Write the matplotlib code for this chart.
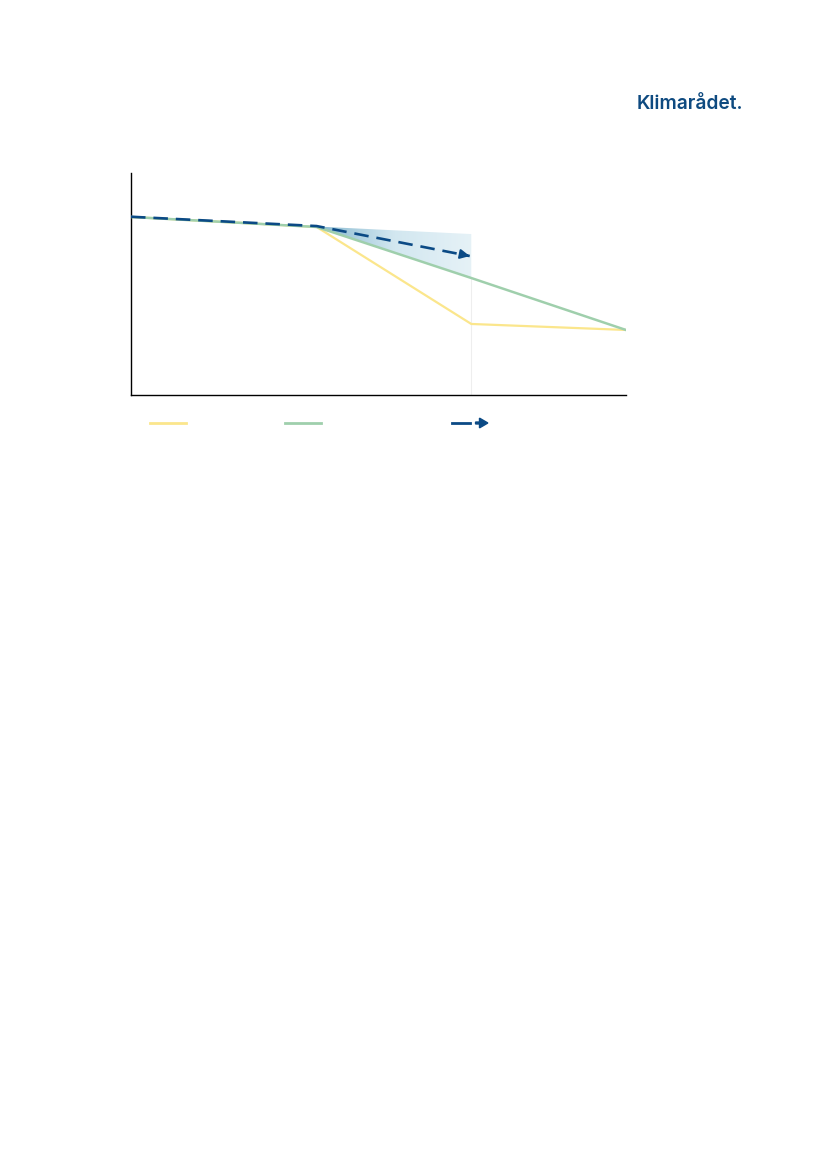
import matplotlib
matplotlib.use('Agg')
import matplotlib.pyplot as plt
import numpy as np
from matplotlib.lines import Line2D
from matplotlib.patches import Polygon, FancyArrow
from matplotlib.legend_handler import HandlerBase
from matplotlib.colors import LinearSegmentedColormap

plt.rcParams['font.family'] = ['Inter', 'DejaVu Sans']

# data (arbitrary index)
years = [2018, 2030, 2040, 2050]
yellow_vals = [80.2, 75.7, 32.0, 29.3]
green_vals = [80.2, 75.7, 52.7, 29.3]
dash_years = [2018, 2030, 2039.9]
dash_vals = [80.3, 76.1, 62.6]
band_years = [2030, 2040]
band_top = [75.9, 72.5]
band_bottom = [75.7, 52.7]

YELLOW = '#fbe68c'
GREEN = '#9fcfac'
NAVY = '#0b4a85'


class ArrowHandler(HandlerBase):
    def create_artists(self, legend, orig_handle, xdescent, ydescent,
                       width, height, fontsize, trans):
        y = height / 2 - ydescent
        ln = Line2D([-xdescent, -xdescent + width * 0.5], [y, y],
                    color=NAVY, lw=2, transform=trans)
        ar = FancyArrow(-xdescent + width * 0.66, y, width * 0.34, 0,
                        width=1.4, head_width=7, head_length=6,
                        length_includes_head=True, color=NAVY, transform=trans)
        return [ln, ar]


fig = plt.figure(figsize=(8.27, 11.69), dpi=100)
ax = fig.add_axes([0.1584, 0.6621, 0.5985, 0.1899])

# gradient shaded band
poly = Polygon(list(zip(band_years, band_top)) + list(zip(band_years[::-1], band_bottom[::-1])),
               closed=True, facecolor='none', edgecolor='none')
ax.add_patch(poly)
cmap = LinearSegmentedColormap.from_list('band', ['#86b8cf', '#d2e7f0', '#e6f2f7'])
grad = np.linspace(0, 1, 256).reshape(1, -1)
im = ax.imshow(grad, cmap=cmap, aspect='auto', origin='lower',
               extent=[band_years[0], band_years[1], min(band_bottom), max(band_top)],
               zorder=1)
im.set_clip_path(poly)

ax.vlines(2040, 0, band_bottom[-1], color='#eeeeee', lw=0.8, zorder=0)

ax.plot(years, yellow_vals, color=YELLOW, lw=1.6, zorder=2)
ax.plot(years, green_vals, color=GREEN, lw=1.8, zorder=3)
ax.plot(dash_years, dash_vals, color=NAVY, lw=1.9, dashes=(5.5, 3), zorder=4)
ax.annotate('', xy=(dash_years[-1], dash_vals[-1]),
            xytext=(dash_years[-1] - 0.35, dash_vals[-1] + 0.5),
            arrowprops=dict(arrowstyle='-|>', color=NAVY, lw=1.5, mutation_scale=14),
            zorder=5)

ax.set_xlim(2018, 2050)
ax.set_ylim(0, 100)
ax.set_xticks([])
ax.set_yticks([])
for s in ['top', 'right']:
    ax.spines[s].set_visible(False)
for s in ['left', 'bottom']:
    ax.spines[s].set_linewidth(1.0)
    ax.spines[s].set_color('black')

# legend entries (labels are blank in the reference)
leg_kw = dict(frameon=False, handlelength=2.6, borderpad=0, borderaxespad=0,
              loc='center left')
l1 = ax.legend([Line2D([], [], color=YELLOW, lw=2)], [''],
               bbox_to_anchor=(0.038, -0.13), **leg_kw)
ax.add_artist(l1)
l2 = ax.legend([Line2D([], [], color=GREEN, lw=2)], [''],
               bbox_to_anchor=(0.311, -0.13), **leg_kw)
ax.add_artist(l2)
ax.legend([object()], [''], handler_map={object: ArrowHandler()},
          bbox_to_anchor=(0.648, -0.13), **leg_kw)

fig.text(0.770, 0.911, 'Klimarådet.', color='#0e4a80', fontsize=13.8,
         fontweight='semibold', va='center', ha='left')

fig.savefig('out.png', dpi=100)
